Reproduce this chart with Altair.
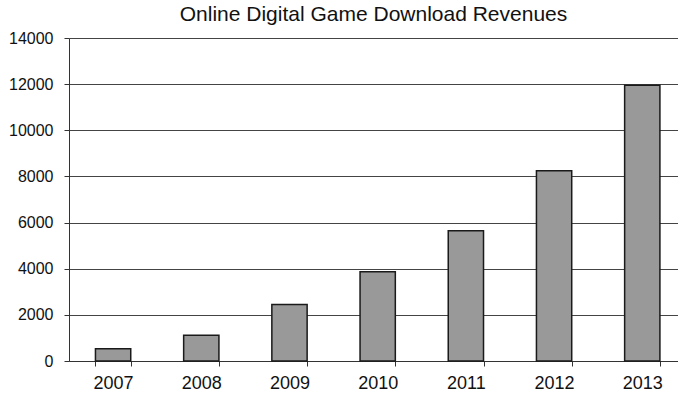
import altair as alt
import pandas as pd

years = ["2007", "2008", "2009", "2010", "2011", "2012", "2013"]
revenues = [530, 1120, 2450, 3870, 5650, 8250, 11950]
y_ticks = [0, 2000, 4000, 6000, 8000, 10000, 12000, 14000]
title_text = "Online Digital Game Download Revenues"

df = pd.DataFrame({"year": years, "revenue": revenues})

font = "Liberation Sans"

chart = alt.Chart(df).mark_bar(
    color="#999999", stroke="#1a1a1a", strokeWidth=1.5
).encode(
    x=alt.X("year:N", title=None,
            scale=alt.Scale(paddingInner=0.6, paddingOuter=0.2525, align=0.594),
            axis=alt.Axis(labelAngle=0, labelFontSize=18, labelFont=font,
                          labelColor="#111", tickBand="extent", tickSize=5,
                          tickColor="#333", domainColor="#333", labelPadding=8,
                          grid=False)),
    y=alt.Y("revenue:Q", title=None,
            scale=alt.Scale(domain=[0, 14000], nice=False),
            axis=alt.Axis(values=y_ticks, format="d", labelFontSize=16,
                          labelFont=font, labelColor="#111", tickSize=5,
                          tickColor="#333", domainColor="#333",
                          gridColor="#444", gridWidth=1, gridOpacity=1,
                          labelPadding=11)),
).properties(
    width=609, height=323,
    title=alt.Title(title_text, fontSize=21, font=font, fontWeight="normal",
                    color="#111", offset=5),
    autosize=alt.AutoSizeParams(type="none"),
    padding={"left": 69, "top": 38, "right": 0, "bottom": 35},
).configure_view(stroke=None).configure_axis(domainWidth=1)

chart.save("out.html", embed_options={"renderer": "svg", "actions": False})
